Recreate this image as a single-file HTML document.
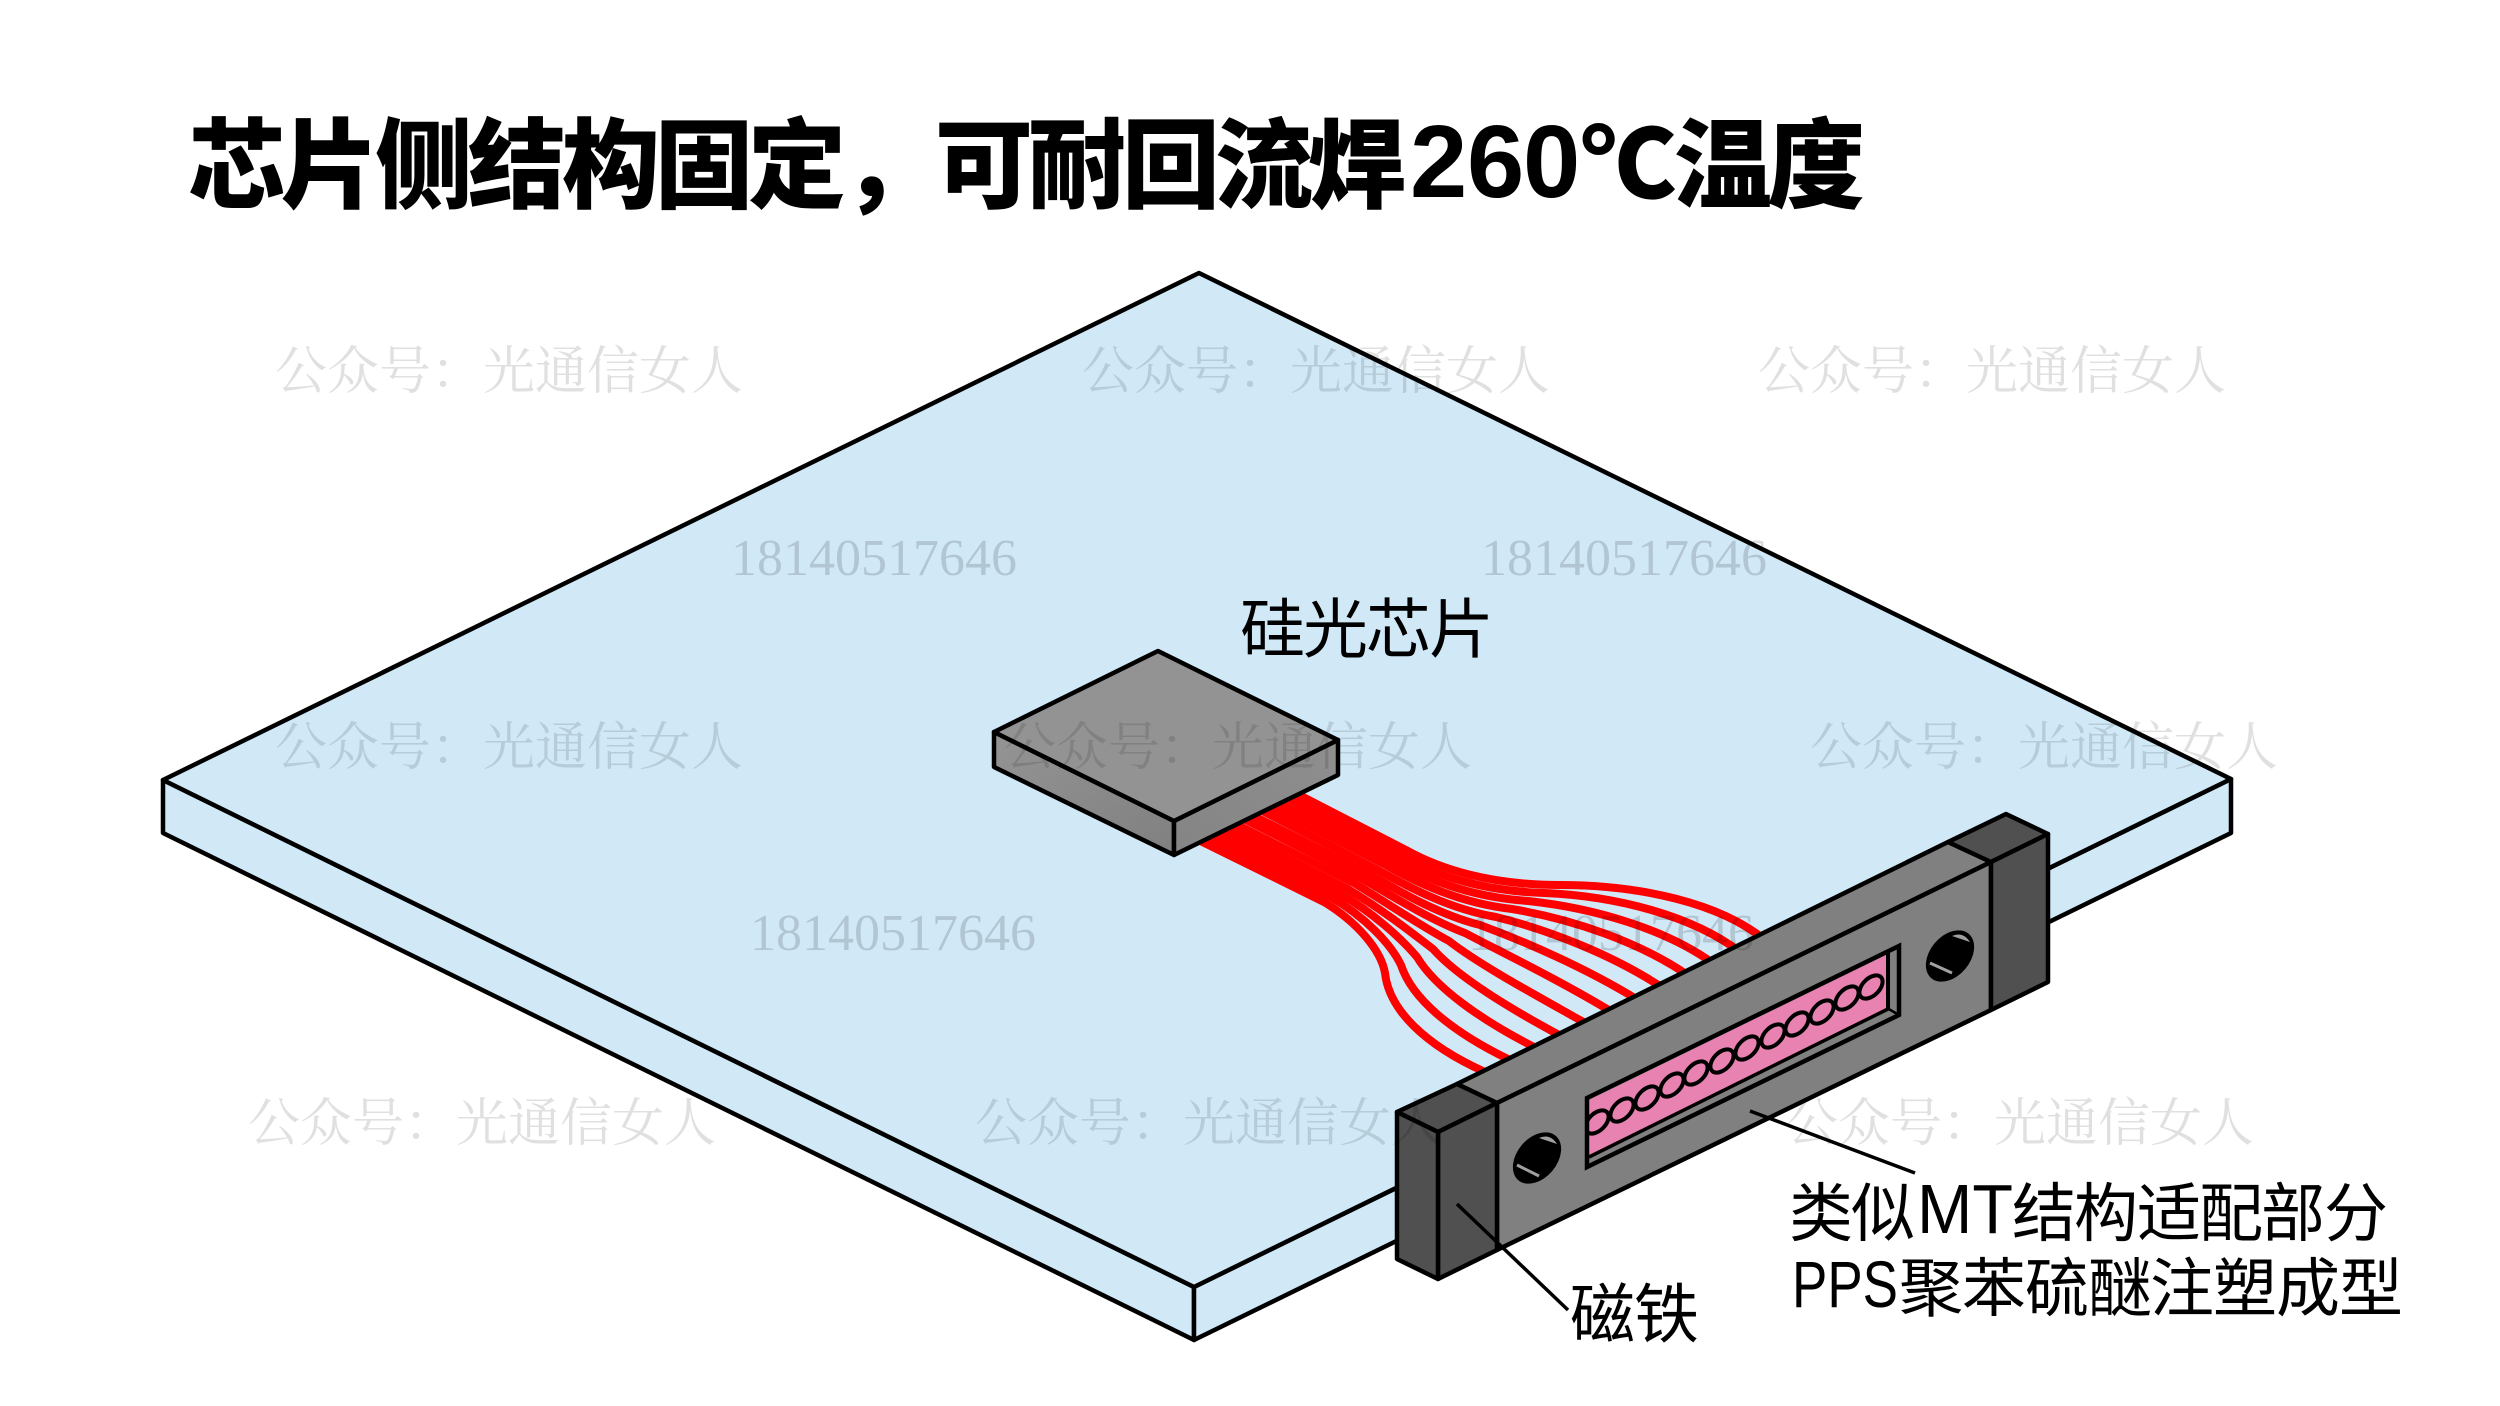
<!DOCTYPE html>
<html lang="zh">
<head>
<meta charset="utf-8">
<title>芯片侧结构固定</title>
<style>
html,body{margin:0;padding:0;background:#fff;width:2500px;height:1406px;overflow:hidden}
svg{display:block}
.t{font-family:"Noto Sans CJK SC","Liberation Sans",sans-serif;fill:#000}
.l{font-family:"Liberation Sans","Noto Sans CJK SC",sans-serif;fill:#000}
.wm{font-family:"Liberation Serif","Noto Serif CJK SC",serif;font-size:52px;fill:#000;fill-opacity:.12}
.wn{font-family:"Liberation Serif","Noto Serif CJK SC",serif;font-size:52px;fill:#000;fill-opacity:.15}
</style>
</head>
<body>
<svg width="2500" height="1406" viewBox="0 0 2500 1406" xmlns="http://www.w3.org/2000/svg">
<defs>
<linearGradient id="gl" x1="0" y1="0" x2="1" y2="1"><stop offset="0" stop-color="#949494"/><stop offset="1" stop-color="#808080"/></linearGradient>
<linearGradient id="gr" x1="0" y1="1" x2="1" y2="0"><stop offset="0" stop-color="#848484"/><stop offset="1" stop-color="#8f8f8f"/></linearGradient>
<clipPath id="pinkclip"><polygon points="1589,1100 1888,954 1888,1008 1589,1156"/></clipPath>
</defs>
<rect width="2500" height="1406" fill="#fff"/>

<!-- title -->
<text class="t" y="200" font-size="98" font-weight="900" x="188 281 375 468 562 655 748 842 935 1028 1122 1215 1308">芯片侧结构固定，可耐回流焊</text>
<text class="l" x="1410 1467 1523" y="197" font-size="103" font-weight="700">260</text>
<text class="t" x="1581" y="198" font-size="95" font-weight="900">℃</text>
<text class="t" y="200" font-size="98" font-weight="900" x="1674 1767">温度</text>

<!-- board -->
<g fill="#d1e9f7" stroke="#000" stroke-width="4.5" stroke-linejoin="round">
<polygon points="163,780 1194,1287 1194,1340 163,833"/>
<polygon points="1194,1287 2231,779 2231,833 1194,1340"/>
<polygon points="1199,273 2231,779 1194,1287 163,780"/>
</g>

<!-- wires -->
<g fill="none" stroke="#ff0000" stroke-width="8">
<path d="M1170,826L1324,902C1357,922 1381,950 1385,973C1389,1010 1425,1045 1485,1072"/>
<path d="M1179,822L1331,897C1365,917 1391,944 1401,965C1412,999 1452,1032 1510,1060"/>
<path d="M1187,817L1339,893C1372,912 1401,938 1417,957C1435,987 1479,1019 1536,1048"/>
<path d="M1196,813L1346,888C1380,908 1411,932 1433,949C1457,976 1505,1006 1561,1036"/>
<path d="M1205,809L1354,883C1387,903 1421,926 1449,941C1480,965 1532,993 1587,1024"/>
<path d="M1214,804L1361,878C1395,898 1431,920 1465,933C1503,953 1559,980 1612,1012"/>
<path d="M1222,800L1369,874C1402,893 1440,915 1480,925C1526,942 1586,968 1638,1000"/>
<path d="M1231,795L1376,869C1410,888 1450,909 1496,917C1549,930 1613,955 1663,988"/>
<path d="M1240,791L1384,864C1417,883 1460,903 1512,909C1572,919 1640,942 1689,976"/>
<path d="M1249,787L1391,859C1425,879 1470,897 1528,901C1594,908 1666,929 1714,964"/>
<path d="M1257,782L1399,855C1432,874 1480,891 1544,893C1617,896 1693,916 1740,952"/>
<path d="M1266,778L1406,850C1440,869 1490,885 1560,885C1640,885 1720,903 1765,940"/>
</g>

<!-- chip -->
<g stroke="#000" stroke-width="4.5" stroke-linejoin="round">
<polygon points="994,732 1174,821 1174,855 994,767" fill="url(#gl)"/>
<polygon points="1174,821 1338,740 1338,775 1174,855" fill="url(#gr)"/>
<polygon points="1158,651 1338,740 1174,821 994,732" fill="#939393"/>
</g>

<!-- connector -->
<g stroke="#000" stroke-width="4.5" stroke-linejoin="round">
<polygon points="1457,1084 1948,842 1991,862 1497,1103" fill="#808080"/>
<polygon points="1497,1103 1991,862 1991,1010 1497,1250" fill="#808080"/>
<polygon points="1948,842 2006,814 2048,834 1991,862" fill="#505050"/>
<polygon points="1991,862 2048,834 2048,982 1991,1010" fill="#505050"/>
<polygon points="1397,1112 1457,1084 1497,1103 1438,1132" fill="#505050"/>
<polygon points="1438,1132 1497,1103 1497,1250 1438,1279" fill="#505050"/>
<polygon points="1397,1112 1438,1132 1438,1279 1397,1259" fill="#505050"/>
</g>

<!-- window -->
<polygon points="1589,1100 1888,954 1888,1008 1589,1156" fill="#e882b1"/>
<polygon points="1587,1098 1899,946 1899,1015 1587,1167" fill="none" stroke="#000" stroke-width="4.5" stroke-linejoin="miter"/>
<line x1="1589" y1="1157" x2="1888" y2="1009" stroke="#000" stroke-width="3.5"/>
<line x1="1888" y1="952" x2="1888" y2="1009" stroke="#000" stroke-width="4"/>
<line x1="1899" y1="1015" x2="1887" y2="1008" stroke="#000" stroke-width="2.5"/>
<g clip-path="url(#pinkclip)" fill="none" stroke="#000" stroke-width="4">
<ellipse cx="1871" cy="987" rx="14" ry="8.5" transform="rotate(-45 1871 987)"/>
<ellipse cx="1847" cy="998" rx="14" ry="8.5" transform="rotate(-45 1847 998)"/>
<ellipse cx="1822" cy="1012" rx="14" ry="8.5" transform="rotate(-45 1822 1012)"/>
<ellipse cx="1797" cy="1024" rx="14" ry="8.5" transform="rotate(-45 1797 1024)"/>
<ellipse cx="1773" cy="1036" rx="14" ry="8.5" transform="rotate(-45 1773 1036)"/>
<ellipse cx="1747" cy="1048" rx="14" ry="8.5" transform="rotate(-45 1747 1048)"/>
<ellipse cx="1722" cy="1061" rx="14" ry="8.5" transform="rotate(-45 1722 1061)"/>
<ellipse cx="1696" cy="1073" rx="14" ry="8.5" transform="rotate(-45 1696 1073)"/>
<ellipse cx="1672" cy="1085" rx="14" ry="8.5" transform="rotate(-45 1672 1085)"/>
<ellipse cx="1647" cy="1098" rx="14" ry="8.5" transform="rotate(-45 1647 1098)"/>
<ellipse cx="1622" cy="1110" rx="14" ry="8.5" transform="rotate(-45 1622 1110)"/>
<ellipse cx="1597" cy="1122" rx="14" ry="8.5" transform="rotate(-45 1597 1122)"/>
</g>

<!-- holes -->
<ellipse cx="1537" cy="1158" rx="29" ry="20" transform="rotate(-50 1537 1158)" fill="#000"/>
<line x1="1517" y1="1165" x2="1539" y2="1176" stroke="#a0a0a0" stroke-width="3"/>
<path d="M1539,1138 Q1550,1133 1557,1144 Z" fill="#a0a0a0"/>
<ellipse cx="1950" cy="956" rx="29" ry="20" transform="rotate(-50 1950 956)" fill="#000"/>
<line x1="1930" y1="963" x2="1952" y2="973" stroke="#a0a0a0" stroke-width="3"/>
<path d="M1952,936 Q1963,931 1970,942 Z" fill="#a0a0a0"/>

<!-- leaders -->
<line x1="1457" y1="1204" x2="1568" y2="1310" stroke="#000" stroke-width="3.5"/>
<line x1="1750" y1="1111" x2="1915" y2="1173" stroke="#000" stroke-width="3.5"/>

<!-- labels -->
<text class="t" x="1240 1303 1366 1429" y="652" font-size="65">硅光芯片</text>
<text class="t" x="1789 1851" y="1236" font-size="64">类似</text>
<text class="l" x="1917" y="1233" font-size="70" textLength="96" lengthAdjust="spacingAndGlyphs">MT</text>
<text class="t" x="2012 2074 2137 2199 2261 2324" y="1236" font-size="64">结构适配部分</text>
<text class="l" x="1792" y="1307" font-size="66" textLength="106" lengthAdjust="spacingAndGlyphs">PPS</text>
<text class="t" x="1899 1962 2025 2088 2150 2213 2276 2339" y="1311" font-size="64">聚苯硫醚注塑成型</text>
<text class="t" x="1570 1634" y="1337" font-size="65">磁铁</text>

<!-- watermarks -->
<text class="wm" x="275" y="389">公众号：光通信女人</text>
<text class="wm" x="1082" y="389">公众号：光通信女人</text>
<text class="wm" x="1758" y="389">公众号：光通信女人</text>
<text class="wm" x="275" y="765">公众号：光通信女人</text>
<text class="wm" x="1004" y="765">公众号：光通信女人</text>
<text class="wm" x="1810" y="765">公众号：光通信女人</text>
<text class="wm" x="248" y="1141">公众号：光通信女人</text>
<text class="wm" x="975" y="1141">公众号：光通信女人</text>
<text class="wm" x="1786" y="1141">公众号：光通信女人</text>
<text class="wn" x="731" y="575">18140517646</text>
<text class="wn" x="1481" y="575">18140517646</text>
<text class="wn" x="750" y="950">18140517646</text>
<text class="wn" x="1468" y="950">18140517646</text>
</svg>
</body>
</html>
